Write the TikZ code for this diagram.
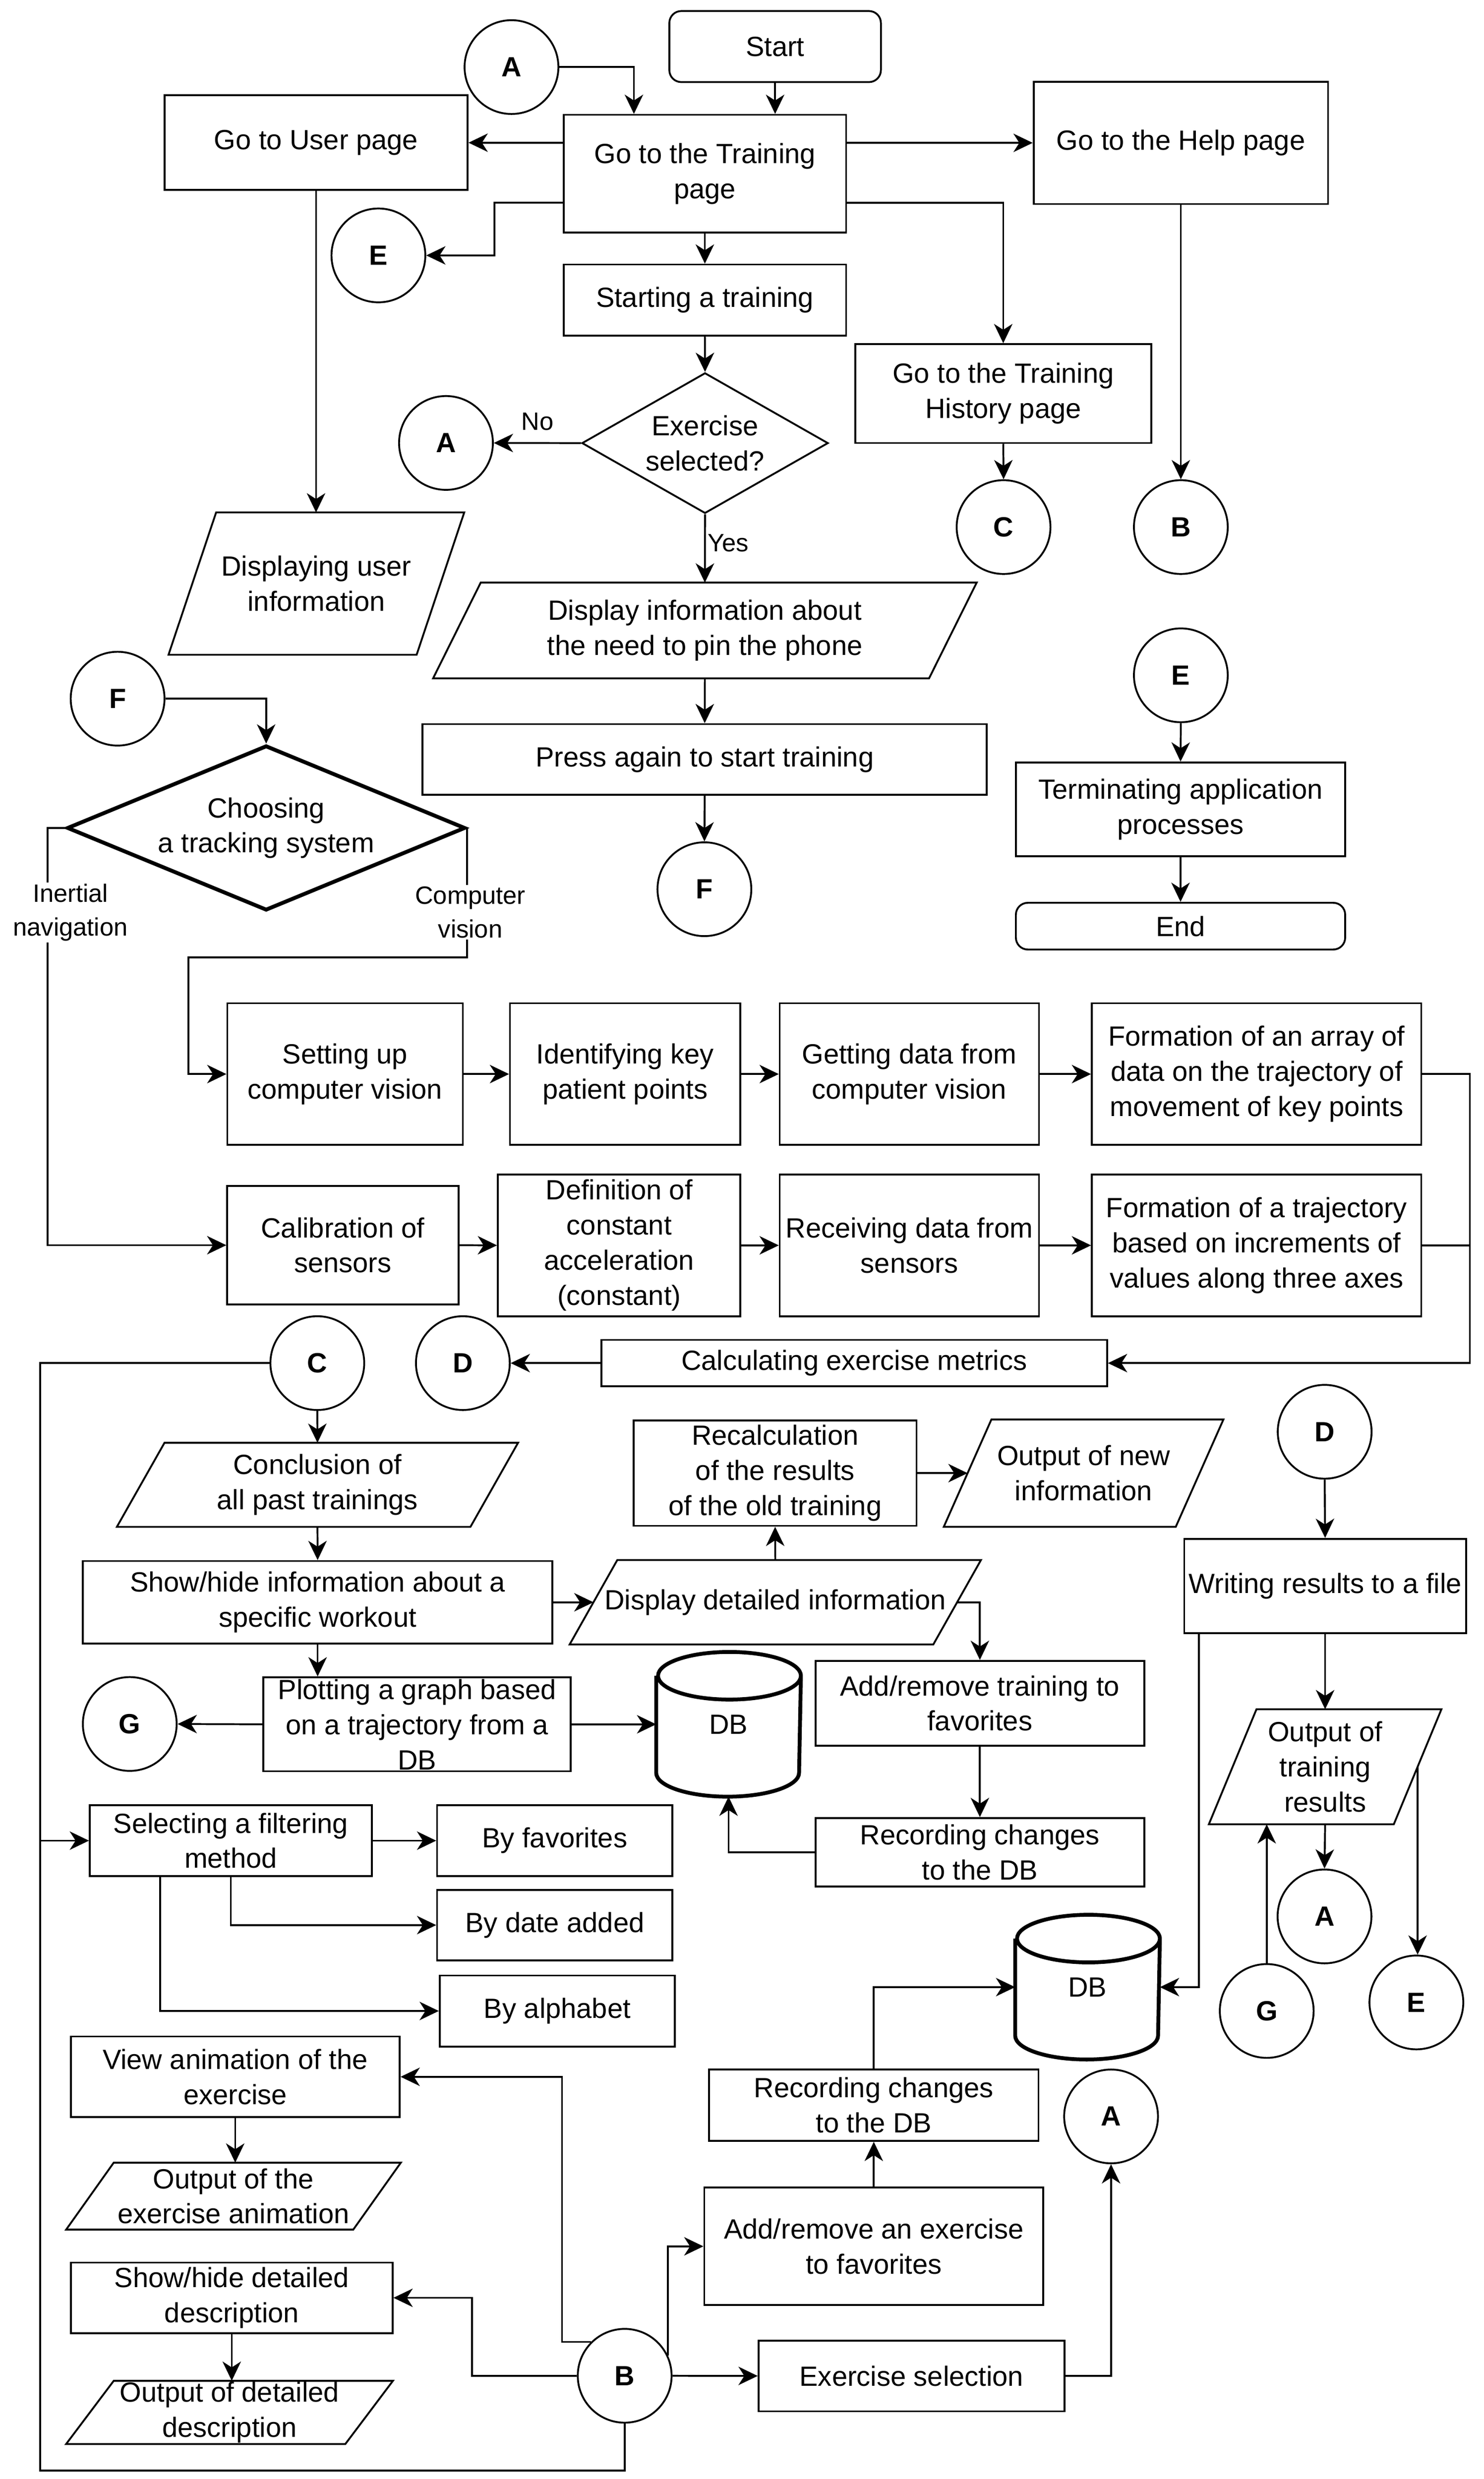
\documentclass[tikz,border=0pt]{standalone}
\usepackage{fontspec}
\setmainfont{Liberation Sans}
\usetikzlibrary{arrows.meta,shapes.geometric}

\tikzset{
  box/.style 2 args={draw,rectangle,align=center,inner sep=1pt,minimum width=#1*0.3315mm,minimum height=#2*0.3315mm},
  terminal/.style 2 args={box={#1}{#2},rounded corners=2.5mm},
  io/.style 2 args={rectangle,align=center,inner sep=1pt,minimum width=#1*0.3315mm,minimum height=#2*0.3315mm},
  decision/.style 2 args={draw,diamond,align=center,inner sep=0pt,minimum width=#1*0.3315mm,minimum height=#2*0.3315mm},
  conn/.style={draw,circle,inner sep=0pt,minimum size=19.7mm,font=\fontsize{16.6}{20}\selectfont\bfseries},
  db/.style={rectangle,inner sep=0pt,minimum width=30mm,minimum height=30mm},
  lbl/.style={inner sep=1pt,align=center,font=\fontsize{15}{20}\selectfont},
}

\begin{document}
\begin{tikzpicture}[x=0.3315mm,y=-0.3315mm,line width=1.1pt,
  >={Stealth[length=11.5pt,width=11pt,inset=3.5pt]},
  font=\fontsize{16.6}{21}\selectfont]

\fill[white] (0,0) rectangle (940,1570.4);
\useasboundingbox (0,0) rectangle (940,1570.4);

% pages
\node[terminal={134}{45}] (Start) at (491,29.5) {Start};
\node[conn] (ConnA1) at (324,42.5) {A};
\node[box={179}{74.5}] (TrainingPage) at (446.5,110) {Go to the Training\\page};
\node[box={192}{60}] (UserPage) at (200.2,90.4) {Go to User page};
\node[box={186.5}{77.5}] (HelpPage) at (748,90.5) {Go to the Help page};
\node[conn] (ConnE1) at (239.7,161.8) {E};
\node[box={179}{45}] (StartTraining) at (446.5,190.1) {Starting a training};
\node[decision={156}{89},aspect=1.75] (ExerciseSelected) at (446.6,280.7) {Exercise\\selected?};
\node[conn] (ConnA2) at (282.5,280.6) {A};
\node[box={187.5}{62.6}] (HistoryPage) at (635.5,249.3) {Go to the Training\\History page};
\node[conn] (ConnC1) at (635.7,333.9) {C};
\node[conn] (ConnB1) at (748,333.9) {B};
\node[io={156}{89}] (UserInfo) at (200.4,369.7) {Displaying user\\information};
\node[io={313}{59.5}] (PinPhone) at (446.5,399.4) {Display information about\\the need to pin the phone};
\node[box={357.4}{44.8}] (PressAgain) at (446.4,481.1) {Press again to start training};
\node[conn] (ConnF1) at (446.2,563.3) {F};
\node[conn] (ConnE2) at (748,427.8) {E};
\node[box={208.6}{59.3}] (Terminating) at (747.8,512.7) {Terminating application\\processes};
\node[terminal={208.6}{29.6}] (EndNode) at (747.8,586.7) {End};

\draw[->] (Start.south) -- (Start.south |- TrainingPage.north);
\draw[->] (ConnA1.east) -| ([xshift=-14.9mm]TrainingPage.north);
\draw[->] (TrainingPage.west |- UserPage.east) -- (UserPage.east);
\draw[->] (TrainingPage.east |- HelpPage.west) -- (HelpPage.west);
\draw[->] ([yshift=-6.1mm]TrainingPage.west) -- (313.2,128.4) |- (ConnE1.east);
\draw[->] ([yshift=-6.1mm]TrainingPage.east) -| (HistoryPage.north);
\draw[->] (TrainingPage.south) -- (StartTraining.north);
\draw[->] (StartTraining.south) -- (ExerciseSelected.north);
\draw[->] (ExerciseSelected.west) -- node[lbl,above=6pt] {No} (ConnA2.east);
\draw[->] (ExerciseSelected.south) -- node[lbl,right=0pt,pos=0.42] {Yes} (PinPhone.north);
\draw[->] (HistoryPage.south) -- (ConnC1.north);
\draw[->] (HelpPage.south) -- (ConnB1.north);
\draw[->] (UserPage.south) -- (UserPage.south |- UserInfo.north);
\draw[->] (PinPhone.south) -- (PressAgain.north);
\draw[->] (PressAgain.south) -- (ConnF1.north);
\draw[->] (ConnE2.south) -- (Terminating.north);
\draw[->] (Terminating.south) -- (EndNode.north);

% tracking system
\node[conn] (ConnF2) at (74.5,442.6) {F};
\node[decision={252.3}{104.5},aspect=2.41,line width=2.3pt] (TrackingSystem) at (168.6,524.5) {Choosing\\a tracking system};
\node[box={149.2}{89.7}] (SetupCV) at (218.6,680.4) {Setting up\\computer vision};
\node[box={145.9}{89.7}] (KeyPoints) at (396,680.4) {Identifying key\\patient points};
\node[box={164.2}{89.7}] (DataCV) at (576,680.4) {Getting data from\\computer vision};
\node[box={208.6}{89.7}] (ArrayCV) at (796,680.4) {Formation of an array of\\data on the trajectory of\\movement of key points};
\node[box={146.5}{75}] (Calibration) at (217.2,788.8) {Calibration of\\sensors};
\node[box={153.6}{89.8}] (Acceleration) at (392.2,788.9) {Definition of\\constant\\acceleration\\(constant)};
\node[box={164.2}{89.8}] (DataSensors) at (576,788.9) {Receiving data from\\sensors};
\node[box={208.6}{89.8}] (TrajectorySensors) at (796,788.9) {Formation of a trajectory\\based on increments of\\values along three axes};
\node[box={320.3}{29.5}] (Metrics) at (541.1,863.5) {Calculating exercise metrics};
\node[conn] (ConnD1) at (293.2,863.5) {D};

\draw[->] (ConnF2.east) -| (TrackingSystem.north);
\draw[->] (TrackingSystem.west) -- (30.2,524.5) |- (Calibration.west);
\node[lbl,fill=white] (Inertial) at (44.6,578) {Inertial\\navigation};
\draw[->] (TrackingSystem.east) |- (119.4,606.4) |- (SetupCV.west);
\node[lbl,fill=white] (CompVision) at (297.9,578) {Computer\\vision};
\draw[->] (SetupCV.east) -- (KeyPoints.west);
\draw[->] (KeyPoints.east) -- (DataCV.west);
\draw[->] (DataCV.east) -- (ArrayCV.west);
\draw[->] (Calibration.east) -- (Acceleration.west);
\draw[->] (Acceleration.east) -- (DataSensors.west);
\draw[->] (DataSensors.east) -- (TrajectorySensors.west);
\draw[->] (ArrayCV.east) -- ++(10mm,0mm) |- (Metrics.east);
\draw (TrajectorySensors.east) -- ++(10mm,0mm);
\draw[->] (Metrics.west) -- (ConnD1.east);

% training history
\node[conn] (ConnC2) at (201,863.5) {C};
\node[io={222.8}{52.1}] (PastTrainings) at (201.1,940.6) {Conclusion of\\all past trainings};
\node[box={297.3}{52.3}] (WorkoutInfo) at (201.2,1015) {Show/hide information about a\\specific workout};
\node[io={229.2}{52.3}] (DetailedInfo) at (491.1,1015) {Display detailed information};
\node[box={179.1}{66.8}] (Recalculation) at (491,933.2) {Recalculation\\of the results\\of the old training};
\node[io={145.8}{66.8}] (NewInfo) at (686.4,933.2) {Output of new\\information};
\node[box={208.3}{53.8}] (FavTraining) at (620.7,1079) {Add/remove training to\\favorites};
\node[box={208.3}{43.5}] (RecordingA) at (620.7,1173.4) {Recording changes\\to the DB};
\node[db] (DBA) at (461.5,1092.3) {DB};
\node[box={194.7}{59.5},inner ysep=-2pt] (Plotting) at (264.2,1092.3) {Plotting a graph based\\on a trajectory from a\\DB};
\node[conn] (ConnG1) at (82.2,1092.1) {G};
\node[box={178.5}{44.8}] (Filtering) at (146.2,1166) {Selecting a filtering\\method};
\node[box={149}{44.8}] (ByFavorites) at (351.4,1166) {By favorites};
\node[box={149}{44.7}] (ByDate) at (351.4,1219.5) {By date added};
\node[box={148.9}{45}] (ByAlphabet) at (353,1273.9) {By alphabet};

\draw[->] (ConnC2.west) -- (25.5,863.5) |- (Filtering.west);
\draw[->] (ConnC2.south) -- (PastTrainings.north);
\draw[->] (PastTrainings.south) -- (WorkoutInfo.north);
\draw[->] (WorkoutInfo.east) -- (DetailedInfo.west);
\draw[->] (DetailedInfo.north) -- (Recalculation.south);
\draw[->] (Recalculation.east) -- (NewInfo.west);
\draw[->] (DetailedInfo.east) -| (FavTraining.north);
\draw[->] (FavTraining.south) -- (RecordingA.north);
\draw[->] (RecordingA.west) -| (DBA.south);
\draw[->] (WorkoutInfo.south) -- (WorkoutInfo.south |- Plotting.north);
\draw[->] (Plotting.east) -- (DBA.west);
\draw[->] (Plotting.west) -- (ConnG1.east);
\draw[->] (Filtering.east) -- (ByFavorites.west);
\draw[->] (Filtering.south) |- (ByDate.west);
\draw[->] ([xshift=-14.8mm]Filtering.south) |- (ByAlphabet.west);

% exercises
\node[box={208.3}{51.1}] (Animation) at (149,1315.6) {View animation of the\\exercise};
\node[io={180.7}{41.3}] (AnimationOut) at (147.9,1391.2) {Output of the\\exercise animation};
\node[box={203.7}{44.7}] (Description) at (146.8,1455.6) {Show/hide detailed\\description};
\node[io={175.7}{38.9},inner ysep=-1pt] (DescriptionOut) at (145.4,1528.2) {Output of detailed\\description};
\node[conn] (ConnB2) at (395.7,1505) {B};
\node[box={193.7}{44.8}] (ExerciseSel) at (577.4,1505.1) {Exercise selection};
\node[conn] (ConnA3) at (703.8,1340.7) {A};
\node[box={214.7}{74.5}] (FavExercise) at (553.5,1423) {Add/remove an exercise\\to favorites};
\node[box={208.6}{45.2}] (RecordingB) at (553.5,1333.6) {Recording changes\\to the DB};
\node[db] (DBB) at (688.9,1258.8) {DB};

\draw (ConnB2.south) |- (25.5,1565) -- (25.5,1166);
\draw[->] (Animation.south) -- (Animation.south |- AnimationOut.north);
\draw[->] (Description.south) -- (Description.south |- DescriptionOut.north);
\draw[->] (ConnB2.135) -| (356,1315.6) -- (Animation.east);
\draw[->] (ConnB2.west) -| (299.1,1455.6) -- (Description.east);
\draw[->] (ConnB2.25) |- (FavExercise.west);
\draw[->] (ConnB2.east) -- (ExerciseSel.west);
\draw[->] (ExerciseSel.east) -| (ConnA3.south);
\draw[->] (FavExercise.north) -- (RecordingB.south);
\draw[->] (RecordingB.north) |- (DBB.west);

% results
\node[conn] (ConnD2) at (839.1,907) {D};
\node[box={178.5}{59.8}] (WriteFile) at (839.4,1004.7) {Writing results to a file};
\node[io={116}{71.7}] (TrainingResults) at (839.4,1119.2) {Output of\\training\\results};
\node[conn] (ConnA4) at (839,1214) {A};
\node[conn] (ConnG2) at (802.4,1273.9) {G};
\node[conn] (ConnE3) at (897.2,1268.5) {E};

\draw[->] (ConnD2.south) -- (WriteFile.north);
\draw[->] (WriteFile.south) -- (TrainingResults.north);
\draw[->] ([xshift=-26.5mm]WriteFile.south) |- (DBB.east);
\draw[->] (TrainingResults.south) -- (ConnA4.north);
\draw[->] (ConnG2.north) -- (ConnG2.north |- TrainingResults.south);
\draw[->] (TrainingResults.east) -- (TrainingResults.east |- ConnE3.north);

% input/output shapes
\foreach \n in {UserInfo,PinPhone,PastTrainings,DetailedInfo,NewInfo,TrainingResults,AnimationOut,DescriptionOut}
  \draw ([xshift=5mm]\n.north west) -- ([xshift=5mm]\n.north east) -- ([xshift=-5mm]\n.south east) -- ([xshift=-5mm]\n.south west) -- cycle;

% databases
\foreach \n in {DBA,DBB}
  \draw[line width=2.3pt] ([yshift=-5mm]\n.north west) -- ([yshift=5mm]\n.south west)
    arc[start angle=180,end angle=360,x radius=15mm,y radius=5mm] -- ([yshift=-5mm]\n.north east)
    arc[start angle=0,end angle=180,x radius=15mm,y radius=5mm]
    arc[start angle=180,end angle=360,x radius=15mm,y radius=5mm];

\end{tikzpicture}
\end{document}
